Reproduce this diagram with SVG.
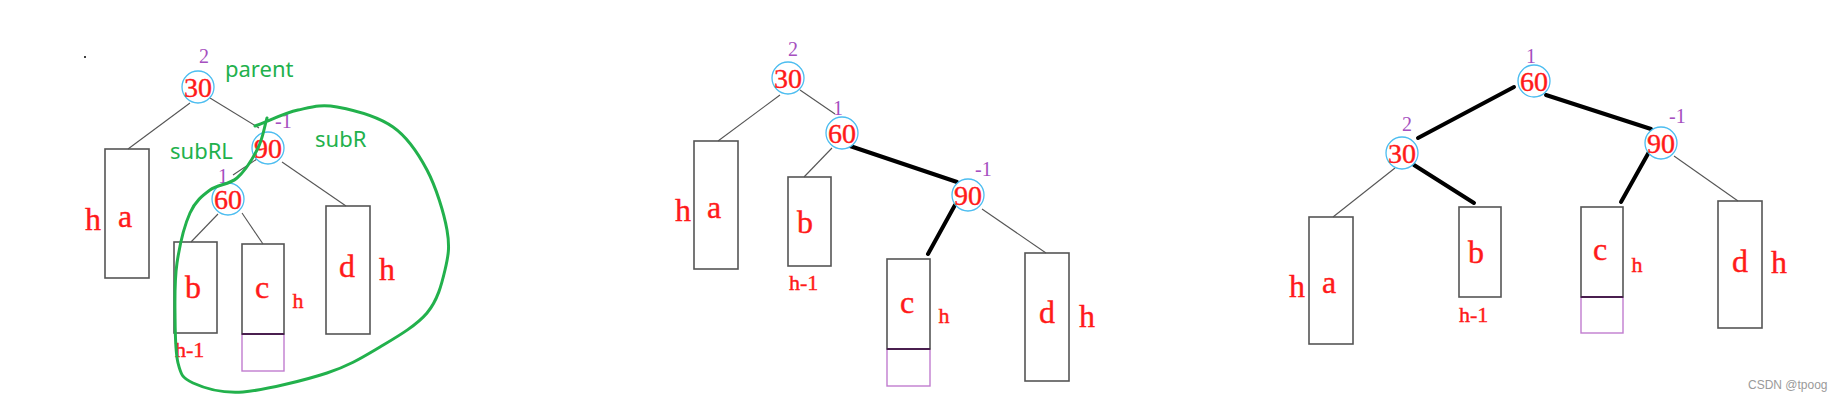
<svg xmlns="http://www.w3.org/2000/svg" width="1831" height="402" viewBox="0 0 1831 402">
<style>
.bg{fill:#ffffff}
.node{fill:#ffffff;stroke:#4cbdf0;stroke-width:1.3}
.num{font-family:"Liberation Serif",serif;font-size:28px;fill:#ff1a1a;stroke:#ff1a1a;stroke-width:0.4;text-anchor:middle}
.bf{font-family:"Liberation Serif",serif;font-size:20px;fill:#a64fbf}
.bfm{font-family:"Liberation Serif",serif;font-size:20px;fill:#a64fbf;text-anchor:middle}
.box{fill:none;stroke:#555555;stroke-width:1.6}
.ext{fill:none;stroke:#c17ccf;stroke-width:1.4}
.extb{stroke:#4a1f4f;stroke-width:2.2}
.lt{font-family:"Liberation Serif",serif;font-size:32px;fill:#ff1a1a;stroke:#ff1a1a;stroke-width:0.4;text-anchor:middle}
.hs{font-family:"Liberation Serif",serif;font-size:22px;fill:#ff1a1a;stroke:#ff1a1a;stroke-width:0.4;text-anchor:middle}
.hm{font-family:"Liberation Serif",serif;font-size:22px;fill:#ff1a1a;stroke:#ff1a1a;stroke-width:0.4}
.thin{stroke:#555555;stroke-width:1.1;fill:none}
.thick{stroke:#000000;stroke-width:4;stroke-linecap:round;fill:none}
.gl{font-family:"Noto Sans",sans-serif;font-size:22px;fill:#22b14c}
.gc{fill:none;stroke:#22b14c;stroke-width:3;stroke-linecap:round;stroke-linejoin:round}
.wm{font-family:"Liberation Sans",sans-serif;font-size:12px;fill:#9a9a9a}
</style>
<rect class="bg" x="0" y="0" width="1831" height="402"/>

<!-- Connectors -->
<g id="connectors">
  <!-- panel 1 -->
  <line class="thin" x1="190" y1="103" x2="128" y2="149"/>
  <line class="thin" x1="210" y1="98" x2="259" y2="128"/>
  <line class="thin" x1="257" y1="159" x2="233" y2="175"/>
  <line class="thin" x1="282" y1="162" x2="346" y2="206"/>
  <line class="thin" x1="218" y1="214" x2="191" y2="242"/>
  <line class="thin" x1="242" y1="213" x2="263" y2="244"/>
  <!-- panel 2 -->
  <line class="thin" x1="780" y1="95" x2="718" y2="141"/>
  <line class="thin" x1="800" y1="90" x2="835" y2="114"/>
  <line class="thin" x1="832" y1="148" x2="804" y2="177"/>
  <line class="thick" x1="850" y1="146" x2="957" y2="182"/>
  <line class="thick" x1="955" y1="205" x2="928" y2="254"/>
  <line class="thin" x1="982" y1="209" x2="1046" y2="253"/>
  <!-- panel 3 -->
  <line class="thick" x1="1514" y1="87" x2="1418" y2="138"/>
  <line class="thick" x1="1546" y1="95" x2="1651" y2="129"/>
  <line class="thin" x1="1395" y1="168" x2="1333" y2="217"/>
  <line class="thick" x1="1414" y1="165" x2="1474" y2="203"/>
  <line class="thick" x1="1649" y1="152" x2="1621" y2="202"/>
  <line class="thin" x1="1674" y1="156" x2="1738" y2="201"/>
</g>

<!-- Panel 1 -->
<circle cx="85" cy="57" r="1" fill="#000"/>
<g id="p1-n30">
  <text class="bfm" x="204" y="63">2</text>
  <circle class="node" cx="198" cy="87" r="16"/>
  <text class="num" x="198" y="96.5">30</text>
</g>
<g id="p1-n90">
  <text class="bf" x="275" y="128">-1</text>
  <circle class="node" cx="268" cy="148" r="16"/>
  <text class="num" x="268" y="157.5">90</text>
</g>
<g id="p1-n60">
  <text class="bfm" x="223" y="183" font-size="17">1</text>
  <circle class="node" cx="228" cy="199" r="16"/>
  <text class="num" x="228" y="208.5">60</text>
</g>
<g id="p1-a">
  <rect class="box" x="105" y="149" width="44" height="129"/>
  <text class="lt" x="125" y="227">a</text>
  <text class="lt" x="93" y="230">h</text>
</g>
<g id="p1-b">
  <rect class="box" x="174" y="242" width="43" height="91"/>
  <text class="lt" x="193" y="298">b</text>
  <text class="hm" x="175" y="357">h-1</text>
</g>
<g id="p1-c">
  <rect class="ext" x="242" y="334" width="42" height="37"/>
  <rect class="box" x="242" y="244" width="42" height="90"/>
  <line class="extb" x1="242" y1="334" x2="284" y2="334"/>
  <text class="lt" x="262" y="298">c</text>
  <text class="hs" x="298" y="308">h</text>
</g>
<g id="p1-d">
  <rect class="box" x="326" y="206" width="44" height="128"/>
  <text class="lt" x="347" y="277">d</text>
  <text class="lt" x="387" y="280">h</text>
</g>
<g id="p1-labels">
  <text class="gl" x="225" y="77">parent</text>
  <text class="gl" x="170" y="159">subRL</text>
  <text class="gl" x="315" y="147">subR</text>
  <path class="gc" d="M255,126 C269,121 284,113 298,110 C312,107 321,104 337,107 C353,110 378,116.5 393,127 C408,137.5 418,153 427,170 C436,187 444,213 447,230 C450,247 448.3,256 445,270 C441.7,284 437.8,300 427,313 C416,326 396.7,337 380,347 C363,357 349.8,365.5 327,373 C304,380.5 265,390 243,392 C220.7,393.7 204,388 193,383 C182,378 181,374.7 178,363 C175,351 175.2,329.7 175,313 C174.8,296.3 174.5,279.7 177,263 C179.5,246.3 184.5,225.2 190,213 C195.5,200.8 202.2,195.8 210,190 C217.8,184.2 229,185 237,178 C245,171 253,158 258,148 C263,138 264,128 267,118"/>
</g>

<!-- Panel 2 -->
<g id="p2-n30">
  <text class="bfm" x="793" y="56">2</text>
  <circle class="node" cx="788" cy="78" r="16"/>
  <text class="num" x="788" y="87.5">30</text>
</g>
<g id="p2-n60">
  <text class="bfm" x="838" y="115">1</text>
  <circle class="node" cx="842" cy="133" r="16"/>
  <text class="num" x="842" y="142.5">60</text>
</g>
<g id="p2-n90">
  <text class="bf" x="975" y="176">-1</text>
  <circle class="node" cx="968" cy="195" r="16"/>
  <text class="num" x="968" y="204.5">90</text>
</g>
<g id="p2-a">
  <rect class="box" x="694" y="141" width="44" height="128"/>
  <text class="lt" x="714" y="218">a</text>
  <text class="lt" x="683" y="221">h</text>
</g>
<g id="p2-b">
  <rect class="box" x="788" y="177" width="43" height="89"/>
  <text class="lt" x="805" y="233">b</text>
  <text class="hm" x="789" y="290">h-1</text>
</g>
<g id="p2-c">
  <rect class="ext" x="887" y="349" width="43" height="37"/>
  <rect class="box" x="887" y="259" width="43" height="90"/>
  <line class="extb" x1="887" y1="349" x2="930" y2="349"/>
  <text class="lt" x="907" y="313">c</text>
  <text class="hs" x="944" y="323">h</text>
</g>
<g id="p2-d">
  <rect class="box" x="1025" y="253" width="44" height="128"/>
  <text class="lt" x="1047" y="323">d</text>
  <text class="lt" x="1087" y="327">h</text>
</g>

<!-- Panel 3 -->
<g id="p3-n60">
  <text class="bfm" x="1531" y="63">1</text>
  <circle class="node" cx="1534" cy="81" r="16"/>
  <text class="num" x="1534" y="90.5">60</text>
</g>
<g id="p3-n30">
  <text class="bfm" x="1407" y="131">2</text>
  <circle class="node" cx="1402" cy="153" r="16"/>
  <text class="num" x="1402" y="162.5">30</text>
</g>
<g id="p3-n90">
  <text class="bf" x="1669" y="123">-1</text>
  <circle class="node" cx="1661" cy="143" r="16"/>
  <text class="num" x="1661" y="152.5">90</text>
</g>
<g id="p3-a">
  <rect class="box" x="1309" y="217" width="44" height="127"/>
  <text class="lt" x="1329" y="293">a</text>
  <text class="lt" x="1297" y="297">h</text>
</g>
<g id="p3-b">
  <rect class="box" x="1459" y="207" width="42" height="90"/>
  <text class="lt" x="1476" y="263">b</text>
  <text class="hm" x="1459" y="322">h-1</text>
</g>
<g id="p3-c">
  <rect class="ext" x="1581" y="297" width="42" height="36"/>
  <rect class="box" x="1581" y="207" width="42" height="90"/>
  <line class="extb" x1="1581" y1="297" x2="1623" y2="297"/>
  <text class="lt" x="1600" y="260">c</text>
  <text class="hs" x="1637" y="272">h</text>
</g>
<g id="p3-d">
  <rect class="box" x="1718" y="201" width="44" height="127"/>
  <text class="lt" x="1740" y="272">d</text>
  <text class="lt" x="1779" y="273">h</text>
</g>

<text class="wm" x="1748" y="389">CSDN @tpoog</text>
</svg>
